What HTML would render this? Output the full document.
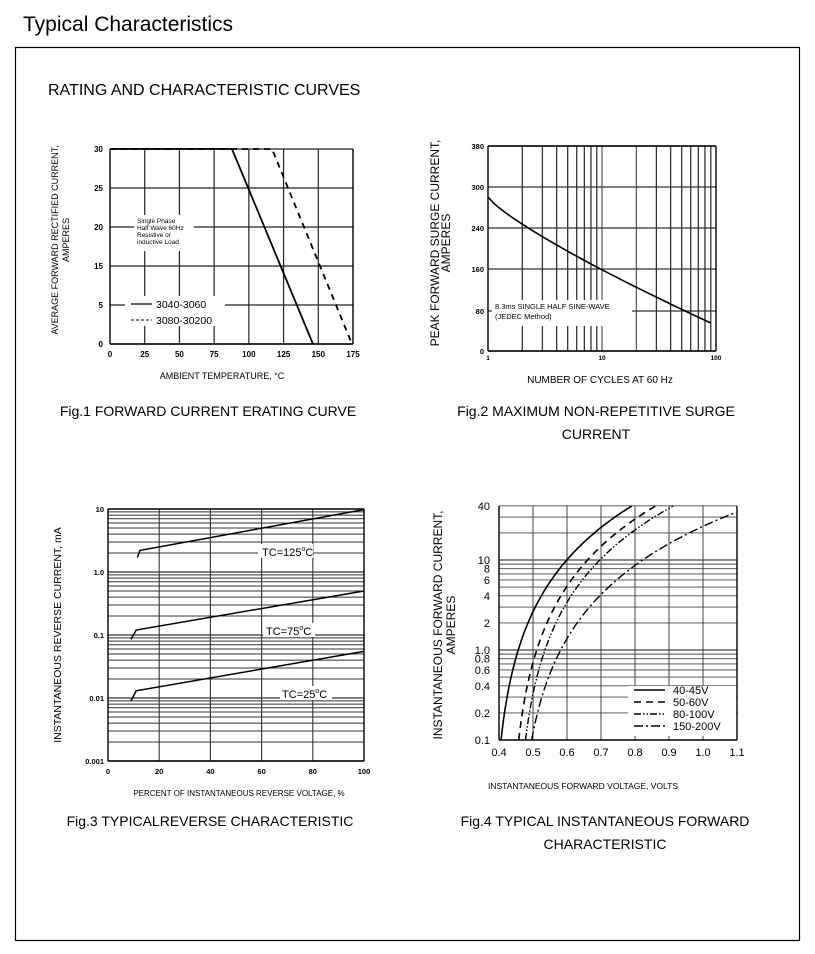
<!DOCTYPE html>
<html><head><meta charset="utf-8"><style>
html,body{margin:0;padding:0;background:#fff;width:815px;height:954px;overflow:hidden}
svg{display:block;font-family:"Liberation Sans",Arial,sans-serif}
</style></head><body>
<svg id="s" width="815" height="954" viewBox="0 0 815 954" xmlns="http://www.w3.org/2000/svg">
<text x="23" y="31" font-size="21">Typical Characteristics</text>
<rect x="15.5" y="47.5" width="784" height="893" fill="none" stroke="#000" stroke-width="1.2"/>
<text x="48" y="95" font-size="16">RATING AND CHARACTERISTIC CURVES</text>
<text x="208" y="416" font-size="14" text-anchor="middle">Fig.1 FORWARD CURRENT ERATING CURVE</text>
<text x="596" y="416" font-size="14" text-anchor="middle">Fig.2 MAXIMUM NON-REPETITIVE SURGE</text>
<text x="596" y="439" font-size="14" text-anchor="middle">CURRENT</text>
<text x="210" y="826" font-size="14" text-anchor="middle">Fig.3 TYPICALREVERSE CHARACTERISTIC</text>
<text x="605" y="826" font-size="14" text-anchor="middle">Fig.4 TYPICAL INSTANTANEOUS FORWARD</text>
<text x="605" y="849" font-size="14" text-anchor="middle">CHARACTERISTIC</text>
<g id="g"></g>
</svg>
<script>
var g=document.getElementById('g');var out='';
function L(x1,y1,x2,y2,w,c,d){out+='<line x1="'+x1+'" y1="'+y1+'" x2="'+x2+'" y2="'+y2+'" stroke="'+(c||'#000')+'" stroke-width="'+(w||1)+'"'+(d?' stroke-dasharray="'+d+'"':'')+'/>';}
function T(x,y,s,t,a,extra){out+='<text x="'+x+'" y="'+y+'" font-size="'+s+'"'+(a?' text-anchor="'+a+'"':'')+(extra||'')+'>'+t+'</text>';}
function P(pts,w,d){var s='';pts.forEach(function(p,i){s+=(i?'L':'M')+p[0].toFixed(1)+' '+p[1].toFixed(1);});out+='<path d="'+s+'" fill="none" stroke="#000" stroke-width="'+w+'"'+(d?' stroke-dasharray="'+d+'"':'')+'/>';}
function W(x,y,w,h){out+='<rect x="'+x+'" y="'+y+'" width="'+w+'" height="'+h+'" fill="#fff"/>';}

// Chart 1
var x0=110,x1=353,yt=149,yb=344;
function cx1(v){return x0+(x1-x0)*v/175;}
var ys=[149,188,227,266,305,344],yl=['30','25','20','15','5','0'];
for(var i=1;i<7;i++)L(cx1(i*25),yt,cx1(i*25),yb,1.2,'#222');
ys.forEach(function(y,i){L(x0,y,x1,y,1.2,'#222');T(103,y+3,8,yl[i],'end',' font-weight="bold"');});
L(x0,yt,x0,yb,1.4);L(x0,yb,x1,yb,1.4);L(x1,yt,x1,yb,1.4);
for(var i=0;i<8;i++)T(cx1(i*25),357,8,String(i*25),'middle',' font-weight="bold"');
W(134,215,60,36);
T(137,223,6.5,'Single Phase');T(137,230,6.5,'Half Wave 60Hz');T(137,237,6.5,'Resistive or');T(137,244,6.5,'inductive Load');
W(125,296,100,30);
L(131,304,152,304,1.3);T(156,308,10.5,'3040-3060');
L(131,320,152,320,1,'#000','3 2');T(156,324,10.5,'3080-30200');
P([[x0,yt],[232,yt],[313,yb]],1.8);
P([[x0,yt],[272,yt],[352,yb]],1.8,'6 5');
T(222,379,9,'AMBIENT TEMPERATURE, °C','middle');
T(0,0,9,'AVERAGE FORWARD RECTIFIED CURRENT,','middle',' transform="translate(58,240) rotate(-90)"');
T(0,0,9,'AMPERES','middle',' transform="translate(69,240) rotate(-90)"');

// Chart 2
var a0=488,a1=716,bt=146,bb=351;
function lx(v){return a0+(a1-a0)*Math.log10(v)/2;}
[2,3,4,5,6,7,8,9,10,20,30,40,50,60,70,80,90].forEach(function(v){L(lx(v),bt,lx(v),bb,(v==10||v==20)?1:1.3,'#333');});
var y2=[146,187,228,269,311,351],l2=['380','300','240','160','80','0'];
y2.forEach(function(y,i){L(a0,y,a1,y,1.2,'#333');T(484,y+3,7.5,l2[i],'end',' font-weight="bold"');});
L(a0,bt,a0,bb,1.4);L(a0,bb,a1,bb,1.4);L(a1,bt,a1,bb,1.4);L(a0,bt,a1,bt,1.4);
W(492,300,140,26);
T(495,309,7.5,'8.3ms SINGLE HALF SINE-WAVE');T(495,319,7.5,'(JEDEC Method)');
var c2=[];for(var k=0;k<=40;k++){var v=Math.pow(10,k*1.954/40);var yy=197+ (323-197)*Math.pow(k/40,0.82);c2.push([lx(v),yy]);}
P(c2,1.6);
T(a0,360,6.5,'1','middle',' font-weight="bold"');T(lx(10),360,6.5,'10','middle',' font-weight="bold"');T(a1,360,6.5,'100','middle',' font-weight="bold"');
T(600,383,10,'NUMBER OF CYCLES AT 60 Hz','middle');
T(0,0,12,'PEAK  FORWARD SURGE CURRENT,','middle',' transform="translate(439,243) rotate(-90)"');
T(0,0,12,'AMPERES','middle',' transform="translate(450,243) rotate(-90)"');

// Chart 3
var p0=108,p1=364,qt=509,qb=761;
function ly3(v){return qb-(qb-qt)*(Math.log10(v)+3)/4;}
function px3(v){return p0+(p1-p0)*v/100;}
for(var d=-3;d<1;d++)for(var m=1;m<10;m++){var v=m*Math.pow(10,d);L(p0,ly3(v),p1,ly3(v),m==1?1.3:1,'#333');}
[20,40,60,80].forEach(function(v){L(px3(v),qt,px3(v),qb,1.1,'#333');});
L(p0,qt,p0,qb,1.4);L(p0,qb,p1,qb,1.4);L(p1,qt,p1,qb,1.4);L(p0,qt,p1,qt,1.4);
[['10',10],['1.0',1],['0.1',0.1],['0.01',0.01],['0.001',0.001]].forEach(function(a){T(104,ly3(a[1])+3,7.5,a[0],'end',' font-weight="bold"');});
for(var i=0;i<=5;i++)T(px3(i*20),774,7.5,String(i*20),'middle',' font-weight="bold"');
W(258,544,55,14);T(262,556,11,'TC=125<tspan font-size="7" dy="-5">o</tspan><tspan dy="5">C</tspan>');
W(263,623,52,14);T(266,635,11,'TC=75<tspan font-size="7" dy="-5">o</tspan><tspan dy="5">C</tspan>');
W(280,686,52,14);T(282,698,11,'TC=25<tspan font-size="7" dy="-5">o</tspan><tspan dy="5">C</tspan>');
P([[px3(11.5),ly3(1.7)],[px3(12.5),ly3(2.2)],[px3(100),ly3(9.8)]],1.5);
P([[px3(9),ly3(0.085)],[px3(11),ly3(0.12)],[px3(100),ly3(0.5)]],1.5);
P([[px3(9),ly3(0.009)],[px3(11),ly3(0.013)],[px3(100),ly3(0.055)]],1.5);
T(239,796,8,'PERCENT OF INSTANTANEOUS REVERSE VOLTAGE, %','middle');
T(0,0,10.5,'INSTANTANEOUS REVERSE CURRENT, mA','middle',' transform="translate(61,635) rotate(-90)"');

// Chart 4
var r0=499,r1=737,st=506,sb=740;
function vx(v){return r0+(r1-r0)*(v-0.4)/0.7;}
function iy(v){return sb-90*Math.log10(v/0.1);}
[0.1,0.2,0.3,0.4,0.5,0.6,0.7,0.8,0.9,1,2,3,4,5,6,7,8,9,10,20,30,40].forEach(function(v){L(r0,iy(v),r1,iy(v),(v==1||v==10)?1.3:0.9,'#444');});
for(var i=1;i<7;i++)L(vx(0.4+i*0.1),st,vx(0.4+i*0.1),sb,1,'#444');
L(r0,st,r0,sb,1.4);L(r0,sb,r1,sb,1.4);L(r1,st,r1,sb,1.4);
[['40',40],['10',10],['8',8],['6',6],['4',4],['2',2],['1.0',1],['0.8',0.8],['0.6',0.6],['0.4',0.4],['0.2',0.2],['0.1',0.1]].forEach(function(a){T(490,iy(a[1])+4,11,a[0],'end');});
for(var i=0;i<=7;i++)T(vx(0.4+i*0.1),756,11,(0.4+i*0.1).toFixed(1),'middle');
function cv(v0,A,d,w){var pts=[];for(var k=0;k<=150;k++){var u=k/150;var V=v0+A*(Math.exp(2.7*u)-1);if(V>1.1)break;pts.push([vx(V),sb-234*u]);}P(pts,w,d);}
cv(0.406,0.0277,null,1.6);
cv(0.458,0.029,'7 5',1.6);
cv(0.478,0.0313,'7 2 1.5 2 1.5 2',1.4);
cv(0.496,0.0468,'9 3 2 3',1.4);
W(628,686,108,50);
L(634,690,665,690,1.6);T(673,694,11,'40-45V');
L(634,702,665,702,1.6,'#000','7 5');T(673,706,11,'50-60V');
L(634,714,665,714,1.4,'#000','7 2 1.5 2 1.5 2');T(673,718,11,'80-100V');
L(634,726,665,726,1.4,'#000','9 3 2 3');T(673,730,11,'150-200V');
T(583,789,8.5,'INSTANTANEOUS FORWARD VOLTAGE, VOLTS','middle');
T(0,0,12,'INSTANTANEOUS FORWARD CURRENT,','middle',' transform="translate(442,625) rotate(-90)"');
T(0,0,12,'AMPERES','middle',' transform="translate(455,625) rotate(-90)"');
g.innerHTML=out;
</script>
</body></html>
